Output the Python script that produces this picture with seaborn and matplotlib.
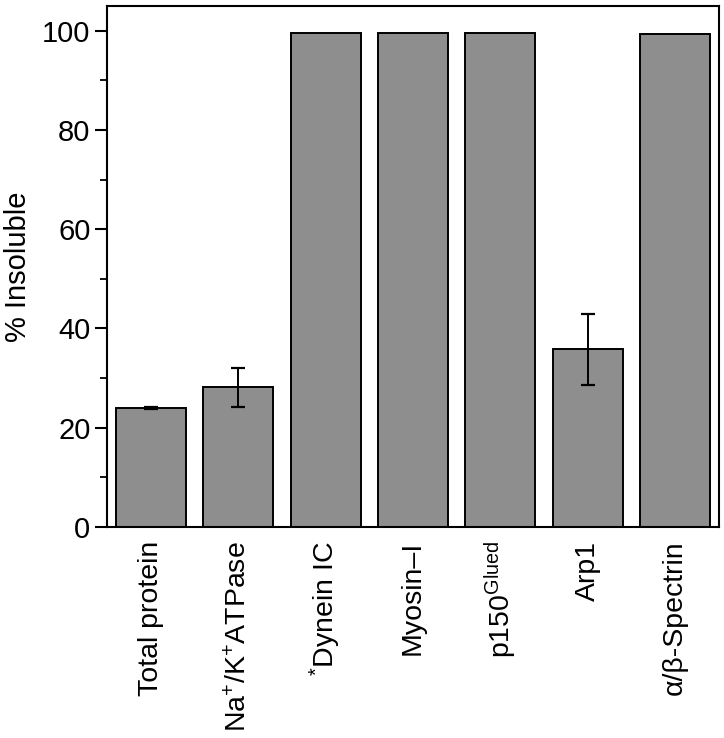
import numpy as np
import pandas as pd
import matplotlib
matplotlib.use("Agg")
import matplotlib.pyplot as plt
import seaborn as sns

categories = ["Total protein", r"Na$^{+}$/K$^{+}$ATPase", r"$^{*}$Dynein IC",
              "Myosin–I", r"p150$^{\mathrm{Glued}}$", "Arp1", "α/β-Spectrin"]
values = [23.9, 28.1, 99.6, 99.6, 99.5, 35.8, 99.4]
errors = [0.2, 3.9, 0.0, 0.0, 0.0, 7.2, 0.0]
yticks = [0, 20, 40, 60, 80, 100]
minor_yticks = [10, 30, 50, 70, 90]

sns.set_theme(style="ticks")
plt.rcParams["font.family"] = ["Liberation Sans", "DejaVu Sans"]
plt.rcParams["mathtext.fontset"] = "custom"
plt.rcParams["mathtext.rm"] = "Liberation Sans"
plt.rcParams["mathtext.it"] = "Liberation Sans:italic"
plt.rcParams["mathtext.bf"] = "Liberation Sans:bold"
plt.rcParams["text.color"] = "black"
plt.rcParams["axes.labelcolor"] = "black"
plt.rcParams["xtick.color"] = "black"
plt.rcParams["ytick.color"] = "black"

df = pd.DataFrame({"protein": categories, "insoluble": values})

fig = plt.figure(figsize=(7.24, 7.38), dpi=100)
ax = fig.add_axes([0.148, 0.286, 0.845, 0.706])

sns.barplot(data=df, x="protein", y="insoluble", ax=ax, color="#8e8e8e",
            saturation=1, width=0.8, edgecolor="black", linewidth=1.4,
            errorbar=None)

centers = [p.get_x() + p.get_width() / 2 for p in ax.patches]
heights = [p.get_height() for p in ax.patches]
for c, h, e in zip(centers, heights, errors):
    if e > 0:
        ax.errorbar(c, h, yerr=e, fmt="none", ecolor="black",
                    elinewidth=1.4, capsize=5, capthick=1.6)

ax.set_ylim(0, 105)
ax.set_xlim(-0.5, len(categories) - 0.5)
ax.set_yticks(yticks)
ax.set_yticks(minor_yticks, minor=True)
ax.set_yticklabels([str(t) for t in yticks], fontsize=21)
ax.tick_params(axis="y", which="major", direction="out", length=9, width=1.5, pad=3)
ax.tick_params(axis="y", which="minor", direction="out", length=5, width=1.3)
ax.tick_params(axis="x", length=0, pad=10)
ax.set_xticks(range(len(categories)))
ax.set_xticklabels(categories, rotation=90, fontsize=20.5, va="top", ha="center")
ax.set_xlabel("")
ax.set_ylabel("% Insoluble", fontsize=21, labelpad=7)

for s in ax.spines.values():
    s.set_visible(True)
    s.set_linewidth(1.5)
    s.set_color("black")

fig.savefig("out.png", dpi=100)
